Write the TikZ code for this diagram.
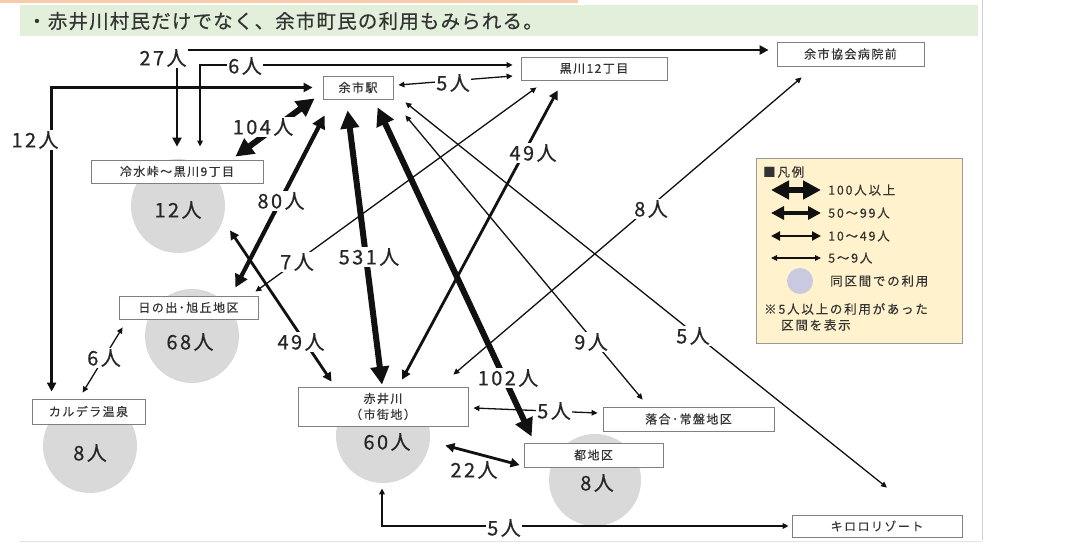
\documentclass[tikz,border=0pt]{standalone}
\usepackage{fontspec}
\setmainfont{Noto Sans CJK JP}
\newfontfamily\hdfont[LetterSpace=6,FakeBold=0.4]{Noto Sans CJK JP}
\newfontfamily\bxfont[LetterSpace=12,FakeBold=0.3]{Noto Sans CJK JP}
\newfontfamily\lbfont[LetterSpace=12,FakeBold=0.6]{Noto Sans CJK JP}
\newfontfamily\lgfont[LetterSpace=14,FakeBold=0.3]{Noto Sans CJK JP}
\usetikzlibrary{arrows.meta}
\definecolor{hgreen}{HTML}{E2EFDA}
\definecolor{horange}{HTML}{F8CBAD}
\definecolor{cgray}{HTML}{D9D9D9}
\definecolor{lgyellow}{HTML}{FFF2CC}
\definecolor{bxborder}{HTML}{808080}
\definecolor{txtgray}{HTML}{333333}
\definecolor{lncol}{HTML}{111111}
\definecolor{frame}{HTML}{D0D0D0}
\begin{document}
\begin{tikzpicture}[x=1pt,y=-1pt,
  box/.style={draw=bxborder, line width=0.8pt, fill=white, inner sep=0pt, align=center,
    font=\bxfont\fontsize{12}{16}\selectfont, text=txtgray},
  disc/.style={circle, fill=cgray, inner sep=0pt},
  big/.style={inner sep=0pt, font=\lbfont\fontsize{20}{22}\selectfont, text=black!85},
  lbl/.style={fill=white, inner sep=1pt, font=\lbfont\fontsize{20}{22}\selectfont, text=black!85},
  lgtext/.style={anchor=west, inner sep=0pt, font=\lgfont\fontsize{12.5}{15}\selectfont, text=txtgray},
  a1/.style={draw=lncol, line width=1.3pt, {Triangle[length=6pt,width=5.5pt]}-{Triangle[length=6pt,width=5.5pt]}},
  a2/.style={draw=lncol, line width=2.8pt, {Triangle[length=9pt,width=9pt]}-{Triangle[length=9pt,width=9pt]}},
  a3/.style={draw=lncol, line width=4.2pt, {Triangle[length=13pt,width=13pt]}-{Triangle[length=13pt,width=13pt]}},
  a4/.style={draw=lncol, line width=6pt, {Triangle[length=18pt,width=18pt]}-{Triangle[length=18pt,width=18pt]}},
]
\useasboundingbox (0,0) rectangle (1067,548);
\fill[white] (0,0) rectangle (1067,548);

% header
\fill[horange] (0,0) rectangle (578,3);
\fill[hgreen] (20,5) rectangle (978,36);
\node[anchor=west, inner sep=0pt, font=\hdfont\fontsize{19.5}{22}\selectfont, text=black!80] (head) at (27,21)
  {・赤井川村民だけでなく、余市町民の利用もみられる。};
\draw[frame, line width=1pt] (982,0) -- (982,540);
\draw[frame!60, line width=1pt] (20,541) -- (982,541);

% discs (same-zone use)
\node[disc, minimum size=94pt] (d12) at (178,206) {};
\node[disc, minimum size=94pt] (d68) at (192,336) {};
\node[disc, minimum size=94pt] (d8a) at (90,446) {};
\node[disc, minimum size=94pt] (d60) at (383,436) {};
\node[disc, minimum size=92pt] (d8b) at (595,480) {};
\node[big] (t12) at (178,210) {12人};
\node[big] (t68) at (190,342) {68人};
\node[big] (t8a) at (90,453) {8人};
\node[big] (t60) at (387,442) {60人};
\node[big] (t8b) at (597,483) {8人};

% boxes
\node[box, minimum width=70pt, minimum height=23pt] (yoichi) at (358,87.5) {余市駅};
\node[box, minimum width=146pt, minimum height=23pt] (kuro12) at (594,68.5) {黒川12丁目};
\node[box, minimum width=147pt, minimum height=24pt] (hosp) at (850.5,54) {余市協会病院前};
\node[box, minimum width=172pt, minimum height=23pt] (rei) at (177,171.5) {冷水峠～黒川9丁目};
\node[box, minimum width=139pt, minimum height=23pt] (hinode) at (188.5,307.5) {日の出･旭丘地区};
\node[box, minimum width=113pt, minimum height=25pt] (cald) at (88.5,411.5) {カルデラ温泉};
\node[box, minimum width=170pt, minimum height=39pt] (aka) at (383,406.5) {赤井川\\（市街地）};
\node[box, minimum width=171pt, minimum height=24pt] (ochi) at (688.5,419) {落合･常盤地区};
\node[box, minimum width=139pt, minimum height=24pt] (miya) at (593.5,455) {都地区};
\node[box, minimum width=170pt, minimum height=22pt] (kiro) at (877,526) {キロロリゾート};

% connectors
\draw[a2] ([shift={(0,-13)}]rei.north) |- ([shift={(-8,-4)}]hosp.west);
\draw[a1] ([shift={(23,-13)}]rei.north) |- ([shift={(-8,-3.5)}]kuro12.west);
\draw[a2] ([shift={(20,-7)}]cald.north west) |- ([xshift=-10pt]yoichi.west);
\draw[a1] ([shift={(5,-2.5)}]yoichi.east) -- ([shift={(-8,7.5)}]kuro12.west);
\draw[a1] ([shift={(-3,-4)}]hinode.north east) -- ([shift={(16,7)}]kuro12.south west);
\draw[a1] ([shift={(-15,-12)}]aka.north east) -- ([shift={(25,11)}]hosp.south west);
\draw[a1] ([shift={(12,3)}]yoichi.south east) -- ([shift={(10,-27)}]kiro.north);
\draw[a1] ([shift={(12,16)}]yoichi.south east) -- ([shift={(40,-7)}]ochi.north west);
\draw[a1] ([shift={(4,8)}]hinode.south west) -- ([shift={(51,-6)}]cald.north west);
\draw[a1] ([shift={(5,1.5)}]aka.east) -- ([shift={(-5,-6)}]ochi.west);
\draw[a1, line width=2.2pt] ([shift={(-1,62)}]aka.south) |- ([xshift=-3pt]kiro.west);
\draw[a2] ([shift={(19,-7)}]aka.north) -- ([shift={(37,10)}]kuro12.south west);
\draw[a2] ([shift={(53,47)}]rei.south) -- ([shift={(34,-5)}]aka.north west);
\draw[a2] ([shift={(-23,19)}]aka.south east) -- ([shift={(-4,10)}]miya.west);
\draw[a3] ([shift={(2,16)}]yoichi.south west) -- ([shift={(-23,-8)}]hinode.north east);
\draw[a4] ([shift={(-8,-1)}]yoichi.south west) -- ([shift={(-28,-3)}]rei.north east);
\draw[a4] ([shift={(25,11)}]yoichi.south west) -- ([shift={(-1,-2)}]aka.north);
\draw[a4] ([shift={(55,8)}]yoichi.south west) -- ([shift={(8,-6)}]miya.north west);

% labels
\node[lbl] (l27) at (163,58) {27人};
\node[lbl] (l6a) at (245,66) {6人};
\node[lbl] (l12) at (35,140) {12人};
\node[lbl] (l5a) at (453,83) {5人};
\node[lbl] (l104) at (263,127) {104人};
\node[lbl] (l80) at (281,201) {80人};
\node[lbl] (l531) at (369,257) {531人};
\node[lbl] (l102) at (508,378) {102人};
\node[lbl] (l49a) at (533,153) {49人};
\node[lbl] (l7) at (297,262) {7人};
\node[lbl] (l8) at (651,209) {8人};
\node[lbl] (l9) at (591,342) {9人};
\node[lbl] (l5b) at (693,336) {5人};
\node[lbl] (l49b) at (301,342) {49人};
\node[lbl] (l6b) at (104,358) {6人};
\node[lbl] (l5c) at (554,411) {5人};
\node[lbl, inner sep=0pt] (l22) at (474,470) {22人};
\node[lbl] (l5d) at (504,528) {5人};

% legend
\node[draw=bxborder!80, fill=lgyellow, line width=0.8pt, minimum width=206pt, minimum height=185pt, inner sep=0pt] (legend) at (859,250.5) {};
\node[lgtext] (lghead) at (763,172) {■凡例};
\coordinate (la1) at (771,190); \coordinate (lb1) at (821,190);
\coordinate (la2) at (771,213); \coordinate (lb2) at (821,213);
\coordinate (la3) at (771,236); \coordinate (lb3) at (821,236);
\coordinate (la4) at (771,258); \coordinate (lb4) at (821,258);
\draw[a4] (la1) -- (lb1);
\draw[a3] (la2) -- (lb2);
\draw[a2] (la3) -- (lb3);
\draw[a1] (la4) -- (lb4);
\node[lgtext] (lg1) at (828,190) {100人以上};
\node[lgtext] (lg2) at (828,213) {50～99人};
\node[lgtext] (lg3) at (828,236) {10～49人};
\node[lgtext] (lg4) at (828,258) {5～9人};
\node[disc, fill=cgray!90!blue!90, minimum size=26pt] (lgdisc) at (800,281) {};
\node[lgtext] (lg5) at (830,281) {同区間での利用};
\node[lgtext] (lg6) at (764,309) {※5人以上の利用があった};
\node[lgtext] (lg7) at (781,325) {区間を表示};
\end{tikzpicture}
\end{document}
